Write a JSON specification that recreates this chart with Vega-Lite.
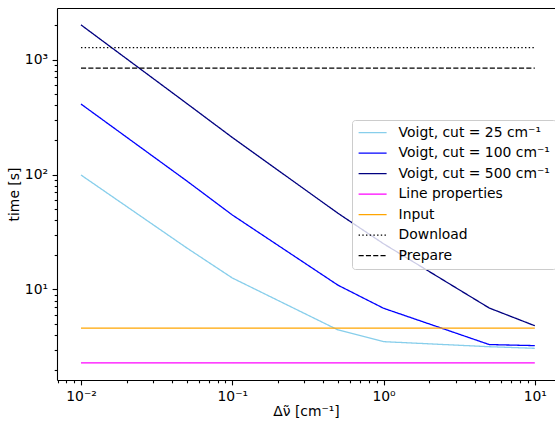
{
  "$schema": "https://vega.github.io/schema/vega-lite/v6.json",
  "width": 498,
  "height": 372,
  "autosize": "none",
  "padding": {"left": 57, "top": 8, "right": 0, "bottom": 41},
  "background": "white",
  "config": {
    "view": {"stroke": null},
    "font": "DejaVu Sans",
    "axis": {
      "labelFont": "DejaVu Sans",
      "titleFont": "DejaVu Sans",
      "labelFontSize": 13.9,
      "titleFontSize": 13.9,
      "titleFontWeight": "normal",
      "labelColor": "black",
      "titleColor": "black",
      "domainColor": "black",
      "domainWidth": 1.1,
      "tickColor": "black",
      "tickWidth": 1.1,
      "grid": false
    },
    "legend": {
      "labelFont": "DejaVu Sans",
      "labelFontSize": 13.9,
      "labelColor": "black"
    }
  },
  "data": {
    "values": [
      {"s": "Voigt, cut = 25 cm⁻¹", "x": 0.01, "t": 99},
      {"s": "Voigt, cut = 25 cm⁻¹", "x": 0.05, "t": 23},
      {"s": "Voigt, cut = 25 cm⁻¹", "x": 0.1, "t": 12.6},
      {"s": "Voigt, cut = 25 cm⁻¹", "x": 0.5, "t": 4.45},
      {"s": "Voigt, cut = 25 cm⁻¹", "x": 1, "t": 3.52},
      {"s": "Voigt, cut = 25 cm⁻¹", "x": 5, "t": 3.18},
      {"s": "Voigt, cut = 25 cm⁻¹", "x": 10, "t": 3.08},
      {"s": "Voigt, cut = 100 cm⁻¹", "x": 0.01, "t": 410},
      {"s": "Voigt, cut = 100 cm⁻¹", "x": 0.05, "t": 88},
      {"s": "Voigt, cut = 100 cm⁻¹", "x": 0.1, "t": 44.5},
      {"s": "Voigt, cut = 100 cm⁻¹", "x": 0.5, "t": 10.9},
      {"s": "Voigt, cut = 100 cm⁻¹", "x": 1, "t": 6.87},
      {"s": "Voigt, cut = 100 cm⁻¹", "x": 5, "t": 3.32},
      {"s": "Voigt, cut = 100 cm⁻¹", "x": 10, "t": 3.25},
      {"s": "Voigt, cut = 500 cm⁻¹", "x": 0.01, "t": 2000},
      {"s": "Voigt, cut = 500 cm⁻¹", "x": 0.05, "t": 415},
      {"s": "Voigt, cut = 500 cm⁻¹", "x": 0.1, "t": 210},
      {"s": "Voigt, cut = 500 cm⁻¹", "x": 0.5, "t": 46},
      {"s": "Voigt, cut = 500 cm⁻¹", "x": 1, "t": 25},
      {"s": "Voigt, cut = 500 cm⁻¹", "x": 5, "t": 6.9},
      {"s": "Voigt, cut = 500 cm⁻¹", "x": 10, "t": 4.84},
      {"s": "Line properties", "x": 0.01, "t": 2.3},
      {"s": "Line properties", "x": 10, "t": 2.3},
      {"s": "Input", "x": 0.01, "t": 4.62},
      {"s": "Input", "x": 10, "t": 4.62},
      {"s": "Download", "x": 0.01, "t": 1267},
      {"s": "Download", "x": 10, "t": 1267},
      {"s": "Prepare", "x": 0.01, "t": 843},
      {"s": "Prepare", "x": 10, "t": 843}
    ]
  },
  "encoding": {
    "y": {
      "field": "t",
      "type": "quantitative",
      "scale": {"type": "log", "domain": [1.633, 2805], "nice": false},
      "axis": {
        "title": "time [s]",
        "values": [2, 3, 4, 5, 6, 7, 8, 9, 10, 20, 30, 40, 50, 60, 70, 80, 90, 100, 200, 300, 400, 500, 600, 700, 800, 900, 1000, 2000],
        "labelExpr": "datum.value == 10 ? '10¹' : datum.value == 100 ? '10²' : datum.value == 1000 ? '10³' : ''",
        "tickSize": {"condition": {"test": "datum.value == 10 || datum.value == 100 || datum.value == 1000", "value": 4.9}, "value": 2.8},
        "labelOverlap": false,
        "labelPadding": 4.5,
        "titlePadding": 3
      }
    },
    "color": {
      "field": "s",
      "type": "nominal",
      "scale": {
        "domain": ["Voigt, cut = 25 cm⁻¹", "Voigt, cut = 100 cm⁻¹", "Voigt, cut = 500 cm⁻¹", "Line properties", "Input", "Download", "Prepare"],
        "range": ["#87ceeb", "#0000ff", "#000080", "#ff00ff", "#ffa500", "#000000", "#000000"]
      },
      "legend": {
        "title": null,
        "orient": "none",
        "legendX": 295,
        "legendY": 112,
        "symbolType": "stroke",
        "symbolSize": 784,
        "symbolStrokeWidth": 1.3,
        "symbolOpacity": 1,
        "clipHeight": 14,
        "rowPadding": 6.5,
        "labelOffset": 11,
        "padding": 5.6,
        "fillColor": "rgba(255,255,255,0.8)",
        "strokeColor": "#cccccc",
        "cornerRadius": 3
      }
    },
    "strokeDash": {
      "field": "s",
      "type": "nominal",
      "scale": {
        "domain": ["Voigt, cut = 25 cm⁻¹", "Voigt, cut = 100 cm⁻¹", "Voigt, cut = 500 cm⁻¹", "Line properties", "Input", "Download", "Prepare"],
        "range": [[1, 0], [1, 0], [1, 0], [1, 0], [1, 0], [1.4, 2.3], [5.1, 2.2]]
      },
      "legend": {
        "title": null,
        "orient": "none",
        "legendX": 295,
        "legendY": 112,
        "symbolType": "stroke",
        "symbolSize": 784,
        "symbolStrokeWidth": 1.3,
        "symbolOpacity": 1,
        "clipHeight": 14,
        "rowPadding": 6.5,
        "labelOffset": 11,
        "padding": 5.6,
        "fillColor": "rgba(255,255,255,0.8)",
        "strokeColor": "#cccccc",
        "cornerRadius": 3
      }
    }
  },
  "layer": [
    {
      "mark": {"type": "line", "strokeWidth": 1.3, "clip": true},
      "encoding": {
        "x": {
          "field": "x",
          "type": "quantitative",
          "scale": {"type": "log", "domain": [0.00694, 13.6], "nice": false},
          "axis": {
            "orient": "bottom",
            "title": "Δν̃ [cm⁻¹]",
            "values": [0.007, 0.008, 0.009, 0.01, 0.02, 0.03, 0.04, 0.05, 0.06, 0.07, 0.08, 0.09, 0.1, 0.2, 0.3, 0.4, 0.5, 0.6, 0.7, 0.8, 0.9, 1, 2, 3, 4, 5, 6, 7, 8, 9, 10],
            "labelExpr": "datum.value == 0.01 ? '10⁻²' : datum.value == 0.1 ? '10⁻¹' : datum.value == 1 ? '10⁰' : datum.value == 10 ? '10¹' : ''",
            "tickSize": {"condition": {"test": "datum.value == 0.01 || datum.value == 0.1 || datum.value == 1 || datum.value == 10", "value": 4.9}, "value": 2.8},
            "labelOverlap": false,
            "labelFlush": false,
            "labelPadding": 4.5,
            "titlePadding": 1
          }
        }
      }
    },
    {
      "mark": {"type": "line", "strokeWidth": 1, "opacity": 0, "clip": true},
      "encoding": {
        "x": {
          "field": "x",
          "type": "quantitative",
          "axis": {"orient": "top", "title": null, "labels": false, "ticks": false, "domain": true}
        }
      }
    }
  ],
  "resolve": {"axis": {"x": "independent"}}
}
